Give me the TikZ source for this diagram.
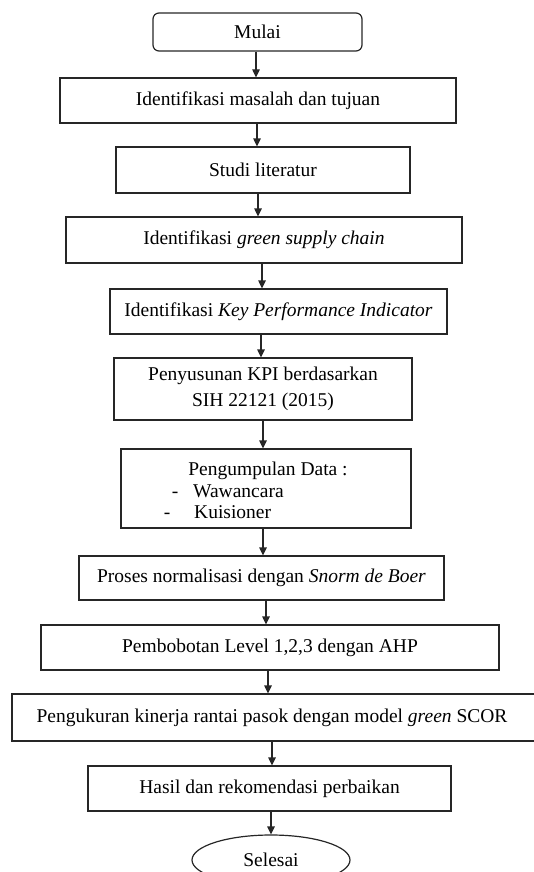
\documentclass[tikz,border=0pt]{standalone}
\usepackage{fontspec}
\setmainfont{Liberation Serif}
\usetikzlibrary{arrows.meta,shapes.geometric}
\begin{document}
\begin{tikzpicture}[x=1pt,y=-1pt,
  fnt/.style={font=\fontsize{19.5}{26}\selectfont},
  box/.style={draw=black!85,line width=1.2pt,rectangle,inner sep=0pt,fnt,align=center},
  lbl/.style={inner sep=0pt,fnt},
  arr/.style={draw=black!85,line width=1.2pt,-{Triangle[length=8pt,width=7.5pt]}}]
\useasboundingbox (0,0) rectangle (534,872);
\node[box,rounded corners=6pt,minimum width=209pt,minimum height=38pt] (b1) at (257.5,32) {Mulai};
\node[box,minimum width=396pt,minimum height=45pt] (b2) at (258,100.5) {Identifikasi masalah dan tujuan};
\node[box,minimum width=294pt,minimum height=46pt] (b3) at (263,170) {Studi literatur};
\node[box,minimum width=396pt,minimum height=46pt] (b4) at (264,240) {Identifikasi \textit{green supply chain}};
\node[box,minimum width=337pt,minimum height=45pt] (b5) at (278.5,311.5) {Identifikasi \textit{Key Performance Indicator}};
\node[box,minimum width=298pt,minimum height=62pt] (b6) at (263,389) {Penyusunan KPI berdasarkan\\SIH 22121 (2015)};
\node[box,minimum width=290pt,minimum height=79pt] (b7) at (266,488.5) {};
\node[lbl,anchor=base] (t7a) at (268,475) {Pengumpulan Data :};
\node[lbl,anchor=base] (d1) at (175,497) {-};
\node[lbl,anchor=base west] (t7b) at (193,497) {Wawancara};
\node[lbl,anchor=base] (d2) at (167,518) {-};
\node[lbl,anchor=base west] (t7c) at (194,518) {Kuisioner};
\node[box,minimum width=365pt,minimum height=44pt] (b8) at (261.5,578) {Proses normalisasi dengan \textit{Snorm de Boer}};
\node[box,minimum width=458pt,minimum height=45pt] (b9) at (270,647.5) {Pembobotan Level 1,2,3 dengan AHP};
\node[box,minimum width=533pt,minimum height=47pt] (b10) at (278.5,717.5) {};
\node[lbl] (t10) at (272,717.5) {Pengukuran kinerja rantai pasok dengan model \textit{green} SCOR};
\node[box,minimum width=363pt,minimum height=45pt] (b11) at (269.5,788.5) {Hasil dan rekomendasi perbaikan};
\node[box,ellipse,minimum width=158pt,minimum height=50pt] (b12) at (271,860) {Selesai};
\coordinate (x1) at (256,0);
\coordinate (x2) at (257,0);
\coordinate (x3) at (258,0);
\coordinate (x4) at (262,0);
\coordinate (x5) at (261,0);
\coordinate (x6) at (263,0);
\coordinate (x7) at (263,0);
\coordinate (x8) at (266,0);
\coordinate (x9) at (268,0);
\coordinate (x10) at (272,0);
\coordinate (x11) at (271,0);
\draw[arr] (b1.south -| x1) -- (b2.north -| x1);
\draw[arr] (b2.south -| x2) -- (b3.north -| x2);
\draw[arr] (b3.south -| x3) -- (b4.north -| x3);
\draw[arr] (b4.south -| x4) -- (b5.north -| x4);
\draw[arr] (b5.south -| x5) -- (b6.north -| x5);
\draw[arr] (b6.south -| x6) -- (b7.north -| x6);
\draw[arr] (b7.south -| x7) -- (b8.north -| x7);
\draw[arr] (b8.south -| x8) -- (b9.north -| x8);
\draw[arr] (b9.south -| x9) -- (b10.north -| x9);
\draw[arr] (b10.south -| x10) -- (b11.north -| x10);
\draw[arr] (b11.south -| x11) -- (b12.north -| x11);
\end{tikzpicture}
\end{document}
